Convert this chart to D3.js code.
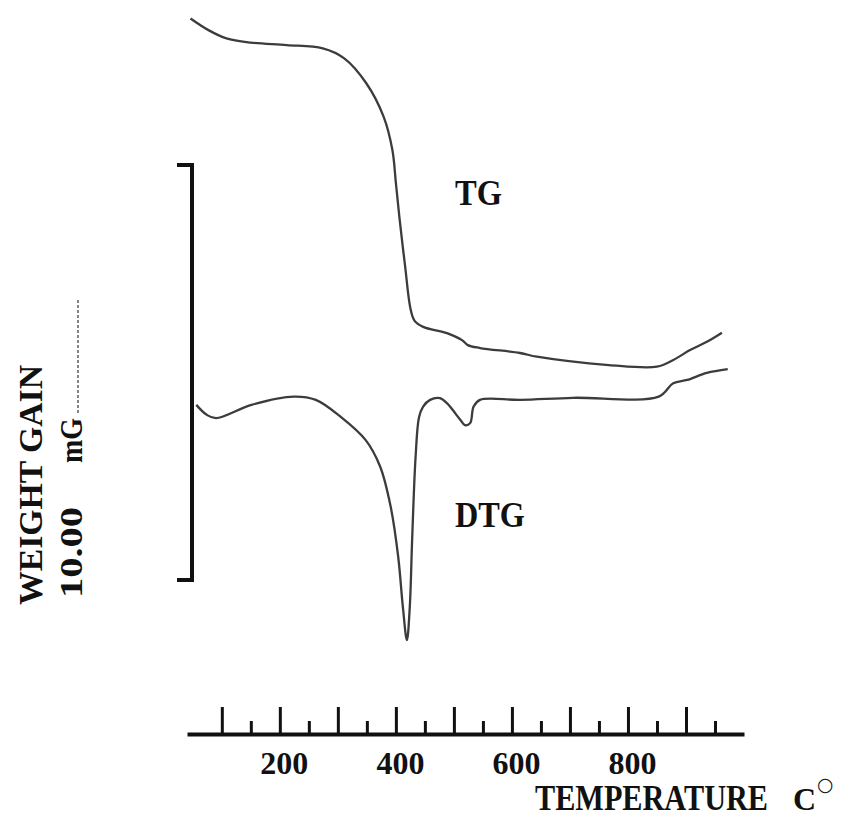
<!DOCTYPE html>
<html>
<head>
<meta charset="utf-8">
<script src="https://cdn.jsdelivr.net/npm/d3@7"></script>
<style>
  body { margin: 0; background: #fff; }
  svg text { font-family: "Liberation Serif", "Times New Roman", serif; font-weight: bold; fill: #111; }
</style>
</head>
<body>
<svg id="chart" width="843" height="819"></svg>
<script>
// temperature (C) / weight (mg)
const tgTemp = [46, 77, 108, 150, 212, 274, 311, 349, 379, 394, 400, 406, 416, 425, 432, 447, 488, 514, 524, 545, 614, 643, 767, 850, 878, 907, 936, 962];
const tgMass = [13.53, 13.25, 13.05, 12.95, 12.89, 12.81, 12.57, 11.97, 11.16, 10.36, 9.57, 8.75, 7.55, 6.55, 6.25, 6.10, 5.95, 5.78, 5.66, 5.59, 5.47, 5.38, 5.18, 5.14, 5.30, 5.54, 5.74, 5.96];

const dtgTemp = [56, 74, 90, 151, 224, 262, 305, 348, 373, 391, 404, 412, 419, 424, 428, 434, 440, 447, 459, 476, 488, 511, 519, 528, 534, 545, 614, 705, 853, 878, 902, 936, 972];
const dtgRate = [4.22, 3.98, 3.90, 4.22, 4.42, 4.34, 3.93, 3.37, 2.73, 1.77, 0.56, -0.64, -1.45, -0.64, 0.96, 2.97, 3.93, 4.18, 4.34, 4.38, 4.26, 3.86, 3.73, 3.78, 4.18, 4.34, 4.34, 4.39, 4.42, 4.74, 4.82, 4.99, 5.08];

const majorTicks = [100, 200, 300, 400, 500, 600, 700, 800, 900];
const minorTicks = [150, 250, 350, 450, 550, 650, 750, 850, 950];
const labeledTicks = [200, 400, 600, 800];
const scaleBar = [0, 10];   // 10.00 mG bracket

const svg = d3.select("#chart");

let x = d3.scaleLinear().domain([40, 1000]).range([187, 744]);
let y = d3.scaleLinear().domain(scaleBar).range([580, 165]);

// weight scale bracket
svg.append("path")
    .attr("d", `M177,${y(scaleBar[1])}H192V${y(scaleBar[0])}H177`)
    .attr("fill", "none")
    .attr("stroke", "#111")
    .attr("stroke-width", 4);

// curves
let line = d3.line()
    .x(d => x(d[0]))
    .y(d => y(d[1]))
    .curve(d3.curveCatmullRom.alpha(0.5));

let tg = tgTemp.map((t, i) => [t, tgMass[i]]);
let dtg = dtgTemp.map((t, i) => [t, dtgRate[i]]);

[tg, dtg].forEach(series => {
    svg.append("path")
        .datum(series)
        .attr("d", line)
        .attr("fill", "none")
        .attr("stroke", "#3c3c3c")
        .attr("stroke-width", 2.3)
        .attr("stroke-linejoin", "round");
});

// temperature axis
let axisY = 734;
let major = svg.append("g")
    .attr("transform", `translate(0,${axisY})`)
    .call(d3.axisBottom(x)
        .tickValues(majorTicks)
        .tickSizeInner(-27)
        .tickSizeOuter(0)
        .tickPadding(17)
        .tickFormat(d => labeledTicks.includes(d) ? d : ""));
major.select(".domain").attr("stroke", "#111").attr("stroke-width", 4);
major.selectAll(".tick line").attr("stroke", "#111").attr("stroke-width", 3);
major.selectAll(".tick text")
    .attr("font-family", null)
    .style("font-size", "32px")
    .attr("dx", 4);

let minor = svg.append("g")
    .attr("transform", `translate(0,${axisY})`)
    .call(d3.axisBottom(x)
        .tickValues(minorTicks)
        .tickSizeInner(-13)
        .tickSizeOuter(0)
        .tickFormat(""));
minor.select(".domain").remove();
minor.selectAll(".tick line").attr("stroke", "#111").attr("stroke-width", 3);

// labels
svg.append("text")
    .attr("x", 455).attr("y", 205)
    .attr("textLength", 47).attr("lengthAdjust", "spacingAndGlyphs")
    .style("font-size", "35px")
    .text("TG");

svg.append("text")
    .attr("x", 455).attr("y", 527)
    .attr("textLength", 70).attr("lengthAdjust", "spacingAndGlyphs")
    .style("font-size", "35px")
    .text("DTG");

// axis title: TEMPERATURE  C°
let title = svg.append("text")
    .attr("y", 810)
    .style("font-size", "32px");
title.append("tspan")
    .attr("x", 535)
    .attr("textLength", 233).attr("lengthAdjust", "spacingAndGlyphs")
    .style("font-size", "35px")
    .text("TEMPERATURE");
title.append("tspan")
    .attr("x", 793)
    .text("C");
title.append("tspan")
    .attr("dx", 1).attr("dy", -19)
    .style("font-family", "'DejaVu Sans'")
    .style("font-weight", "normal")
    .style("font-size", "19px")
    .text("\u25CB");

// y label, rotated
svg.append("text")
    .attr("transform", "translate(42,605) rotate(-90)")
    .attr("textLength", 240).attr("lengthAdjust", "spacingAndGlyphs")
    .style("font-size", "34px")
    .text("WEIGHT  GAIN");

svg.append("text")
    .attr("transform", "translate(82,598) rotate(-90)")
    .attr("textLength", 91).attr("lengthAdjust", "spacingAndGlyphs")
    .style("font-size", "32px")
    .text("10.00");

svg.append("text")
    .attr("transform", "translate(82,463) rotate(-90)")
    .attr("textLength", 45).attr("lengthAdjust", "spacingAndGlyphs")
    .style("font-size", "32px")
    .text("mG");

svg.append("line")
    .attr("x1", 78).attr("x2", 78)
    .attr("y1", 413).attr("y2", 300)
    .attr("stroke", "#333")
    .attr("stroke-width", 1.2)
    .attr("stroke-dasharray", "3,2");
</script>
</body>
</html>
